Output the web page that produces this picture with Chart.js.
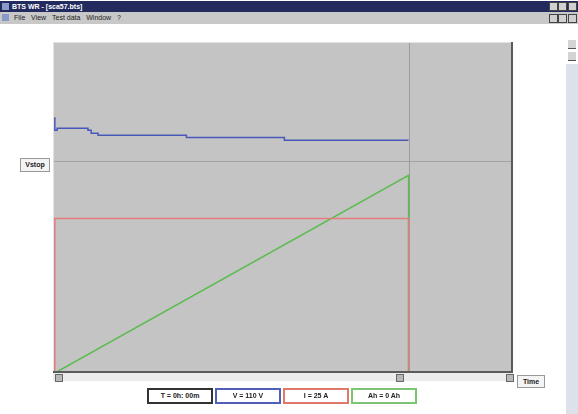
<!DOCTYPE html>
<html>
<head>
<meta charset="utf-8">
<script src="https://cdn.jsdelivr.net/npm/chart.js@4"></script>
<style>
  html, body { margin: 0; padding: 0; background: #fff; }
  body { width: 578px; height: 414px; position: relative; overflow: hidden; font-family: "Liberation Sans", Arial, sans-serif; }
  #chart { position: absolute; left: 0; top: 0; }
  .titlebar { position: absolute; left: 0; top: 1px; width: 578px; height: 11px; background: #232a5e; color: #fff; font: bold 7px "Liberation Sans"; line-height: 11px; }
  .menubar { position: absolute; left: 0; top: 12px; width: 578px; height: 12px; background: #c8c8c8; font: 7px "Liberation Sans"; line-height: 12px; color: #222; }
  .ico { position: absolute; width: 7px; height: 7px; background: #8a9ac8; top: 2px; left: 2px; }
  .btn { position: absolute; width: 7px; height: 7px; background: #d0d0d0; border: 1px solid #444; top: 1px; }
  .side { position: absolute; left: 566px; top: 64px; width: 12px; height: 350px; background: #dce1ec; }
  .sbtn { position: absolute; left: 568px; width: 8px; height: 8px; background: #d4d4d4; border-bottom: 1px solid #555; }
  .hscroll { position: absolute; left: 53px; top: 373px; width: 460px; height: 8px; background: #ececec; }
  .sq { position: absolute; top: 374px; width: 6px; height: 6px; background: #b8b8b8; border: 1px solid #666; }
  .tag { position: absolute; background: #f4f4f4; border: 1px solid #999; font: bold 7px "Liberation Sans"; color: #222; text-align: center; }
  .leg { position: absolute; top: 388px; height: 12px; border: 2px solid #333; background: #fff; font: bold 7px "Liberation Sans"; line-height: 12px; text-align: center; color: #222; }
</style>
</head>
<body>
<canvas id="chart" width="578" height="414"></canvas>

<div class="titlebar"><div class="ico"></div><span style="margin-left:12px">BTS WR - [sca57.bts]</span>
  <div class="btn" style="left:549px"></div><div class="btn" style="left:558px"></div><div class="btn" style="left:568px"></div></div>
<div class="menubar"><div class="ico"></div><span style="margin-left:14px">File&nbsp;&nbsp;&nbsp;View&nbsp;&nbsp;&nbsp;Test data&nbsp;&nbsp;&nbsp;Window&nbsp;&nbsp;&nbsp;?</span>
  <div class="btn" style="left:549px;top:2px"></div><div class="btn" style="left:558px;top:2px"></div><div class="btn" style="left:568px;top:2px"></div></div>

<div class="sbtn" style="top:40px"></div>
<div class="sbtn" style="top:52px"></div>
<div class="side"></div>

<div class="hscroll"></div>
<div class="sq" style="left:55px"></div>
<div class="sq" style="left:396px"></div>
<div class="sq" style="left:506px"></div>

<div class="tag" style="left:20px;top:158px;width:28px;height:12px;line-height:12px">Vstop</div>
<div class="tag" style="left:517px;top:375px;width:26px;height:11px;line-height:11px">Time</div>

<div class="leg" style="left:147px;width:62px;border-color:#333">T = 0h: 00m</div>
<div class="leg" style="left:215px;width:62px;border-color:#5060b8">V = 110 V</div>
<div class="leg" style="left:283px;width:62px;border-color:#e07a68">I = 25 A</div>
<div class="leg" style="left:351px;width:62px;border-color:#7cc474">Ah = 0 Ah</div>

<script>
// time axis in minutes, cursor position and Vstop level
const cursorTime = 77.3;
const vStop = 100;

// voltage trace (V)
const vTime  = [0.4, 0.9, 7.6, 8.3, 9.8, 29.0, 50.3, 67.1, 77.3];
const vVolts = [120.9, 114.8, 115.7, 114.8, 113.3, 112.4, 111.4, 110.0, 110.0];

// current trace (A)
const iTime = [0.4, 0.4, 77.3, 77.3];
const iAmps = [0, 25, 25, 0];

// charge trace (Ah)
const ahTime = [0.4, 77.3, 77.3];
const ahVals = [0, 23.9, 0];

function pts(xs, ys) {
    return xs.map(function(x, i) { return {x: x, y: ys[i]}; });
}

const plotDeco = {
    id: 'plotDeco',
    beforeDatasetsDraw: function(chart) {
        const ctx = chart.ctx, a = chart.chartArea;
        ctx.save();
        ctx.fillStyle = '#c4c4c4';
        ctx.fillRect(a.left, a.top, a.right - a.left, a.bottom - a.top);
        // Vstop line
        const yv = chart.scales.yV.getPixelForValue(vStop);
        ctx.strokeStyle = '#a2a2a6';
        ctx.lineWidth = 1;
        ctx.beginPath();
        ctx.moveTo(a.left, Math.round(yv) + 0.5);
        ctx.lineTo(a.right, Math.round(yv) + 0.5);
        ctx.stroke();
        // cursor line
        const xc = chart.scales.x.getPixelForValue(cursorTime);
        ctx.strokeStyle = '#9c9c9c';
        ctx.beginPath();
        ctx.moveTo(Math.round(xc) + 0.5, a.top);
        ctx.lineTo(Math.round(xc) + 0.5, a.bottom);
        ctx.stroke();
        ctx.restore();
    },
    afterDraw: function(chart) {
        const ctx = chart.ctx, a = chart.chartArea;
        ctx.save();
        ctx.lineWidth = 1;
        ctx.strokeStyle = '#e2e2e2';
        ctx.beginPath();
        ctx.moveTo(a.left + 0.5, a.bottom);
        ctx.lineTo(a.left + 0.5, a.top + 0.5);
        ctx.lineTo(a.right, a.top + 0.5);
        ctx.stroke();
        ctx.lineWidth = 2;
        ctx.strokeStyle = '#5a5a5a';
        ctx.beginPath();
        ctx.moveTo(a.right - 1, a.top);
        ctx.lineTo(a.right - 1, a.bottom - 1);
        ctx.lineTo(a.left, a.bottom - 1);
        ctx.stroke();
        ctx.restore();
    }
};

new Chart(document.getElementById('chart').getContext('2d'), {
    type: 'line',
    data: {
        datasets: [{
            label: 'V',
            data: pts(vTime, vVolts),
            yAxisID: 'yV',
            stepped: 'after',
            borderColor: '#4858b8',
            borderWidth: 1.5,
            pointRadius: 0
        }, {
            label: 'I',
            data: pts(iTime, iAmps),
            yAxisID: 'yI',
            borderColor: '#e57c7c',
            borderWidth: 1.5,
            pointRadius: 0
        }, {
            label: 'Ah',
            data: pts(ahTime, ahVals),
            yAxisID: 'yAh',
            borderColor: '#5cbc50',
            borderWidth: 1.5,
            pointRadius: 0
        }]
    },
    options: {
        responsive: false,
        animation: false,
        layout: { padding: { left: 53, right: 65, top: 42, bottom: 41 } },
        plugins: { legend: { display: false }, tooltip: { enabled: false } },
        scales: {
            x: { type: 'linear', min: 0, max: 100, display: false },
            yV: { min: 0, max: 156.5, display: false },
            yI: { min: 0, max: 53.6, display: false },
            yAh: { min: 0, max: 40, display: false }
        }
    },
    plugins: [plotDeco]
});
</script>
</body>
</html>
